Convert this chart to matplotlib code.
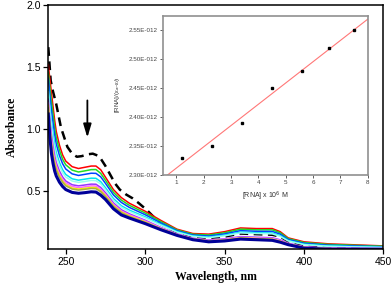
import numpy as np
import matplotlib
matplotlib.use("Agg")
import matplotlib.pyplot as plt
from matplotlib.ticker import FuncFormatter

# wavelength grid (nm) shared by the titration spectra
wl = [239, 240, 241, 242, 243, 244, 246, 248, 250, 254, 258, 262, 266, 269, 272, 275,
      280, 285, 290, 300, 310, 320, 330, 340, 350, 360, 370, 380, 385, 390, 400, 415, 450]

red = [1.52, 1.40, 1.29, 1.18, 1.07, 0.98, 0.87, 0.79, 0.74, 0.695, 0.68, 0.69, 0.70, 0.70, 0.67, 0.61,
       0.51, 0.445, 0.40, 0.335, 0.26, 0.19, 0.155, 0.15, 0.17, 0.20, 0.195, 0.195, 0.17, 0.12, 0.088, 0.072, 0.055]
green = [1.46, 1.33, 1.22, 1.12, 1.01, 0.93, 0.83, 0.755, 0.71, 0.667, 0.652, 0.661, 0.671, 0.672, 0.641, 0.585,
         0.488, 0.425, 0.383, 0.321, 0.25, 0.184, 0.149, 0.143, 0.161, 0.19, 0.185, 0.185, 0.161, 0.114, 0.082, 0.067, 0.052]
blue = [1.41, 1.27, 1.15, 1.05, 0.955, 0.88, 0.786, 0.719, 0.676, 0.637, 0.624, 0.633, 0.642, 0.641, 0.613, 0.56,
        0.467, 0.406, 0.366, 0.307, 0.24, 0.178, 0.143, 0.135, 0.152, 0.178, 0.173, 0.172, 0.15, 0.107, 0.076, 0.061, 0.048]
cyan = [1.33, 1.18, 1.06, 0.964, 0.877, 0.811, 0.729, 0.67, 0.632, 0.597, 0.586, 0.594, 0.602, 0.601, 0.574, 0.525,
        0.437, 0.379, 0.344, 0.29, 0.229, 0.171, 0.136, 0.126, 0.142, 0.166, 0.161, 0.159, 0.138, 0.099, 0.069, 0.055, 0.044]
lcyan = [1.30, 1.14, 1.02, 0.922, 0.84, 0.778, 0.702, 0.647, 0.611, 0.579, 0.568, 0.575, 0.584, 0.582, 0.555, 0.509,
         0.423, 0.367, 0.333, 0.281, 0.222, 0.166, 0.132, 0.122, 0.136, 0.16, 0.155, 0.152, 0.132, 0.095, 0.065, 0.052, 0.042]
purple = [1.24, 1.07, 0.947, 0.858, 0.783, 0.728, 0.66, 0.612, 0.579, 0.549, 0.54, 0.547, 0.554, 0.553, 0.527, 0.484,
          0.402, 0.347, 0.314, 0.262, 0.203, 0.152, 0.117, 0.102, 0.112, 0.13, 0.125, 0.121, 0.104, 0.077, 0.048, 0.038, 0.035]
magenta = [1.21, 1.04, 0.913, 0.826, 0.754, 0.703, 0.639, 0.594, 0.563, 0.535, 0.526, 0.532, 0.54, 0.538, 0.512, 0.471,
           0.391, 0.337, 0.306, 0.256, 0.199, 0.149, 0.114, 0.099, 0.108, 0.125, 0.12, 0.116, 0.099, 0.074, 0.046, 0.035, 0.032]
yellow = [1.19, 1.01, 0.883, 0.798, 0.73, 0.681, 0.621, 0.578, 0.549, 0.522, 0.514, 0.52, 0.527, 0.526, 0.50, 0.461,
          0.381, 0.329, 0.298, 0.249, 0.194, 0.146, 0.111, 0.095, 0.103, 0.12, 0.115, 0.11, 0.094, 0.071, 0.043, 0.033, 0.03]
olive = [1.17, 0.991, 0.864, 0.78, 0.713, 0.667, 0.609, 0.568, 0.54, 0.514, 0.506, 0.512, 0.519, 0.517, 0.492, 0.453,
         0.375, 0.323, 0.292, 0.244, 0.191, 0.144, 0.108, 0.092, 0.10, 0.116, 0.111, 0.106, 0.09, 0.069, 0.04, 0.031, 0.029]
navy = [1.12, 0.93, 0.80, 0.72, 0.66, 0.62, 0.57, 0.535, 0.51, 0.487, 0.48, 0.485, 0.492, 0.49, 0.465, 0.43,
        0.355, 0.305, 0.28, 0.235, 0.185, 0.14, 0.105, 0.088, 0.095, 0.11, 0.105, 0.10, 0.085, 0.065, 0.037, 0.028, 0.027]

# free compound (dashed)
wl_free = [239, 240.5, 242, 244, 247, 251, 254, 257, 260, 264, 267, 270, 272, 275, 278, 281, 284, 288,
           292, 296, 301, 310, 320, 330, 340, 350, 360, 370, 380, 385, 390, 395, 400, 410, 430, 450]
free = [1.66, 1.39, 1.30, 1.20, 1.01, 0.855, 0.80, 0.775, 0.78, 0.795, 0.80, 0.785, 0.76, 0.70, 0.63, 0.56, 0.51, 0.47,
        0.44, 0.40, 0.345, 0.23, 0.165, 0.13, 0.12, 0.13, 0.155, 0.15, 0.145, 0.13, 0.092, 0.072, 0.054, 0.042, 0.036, 0.033]

spectra = [red, green, blue, cyan, lcyan, purple, magenta, yellow, olive, navy]
colors = ['#ff0000', '#22dd22', '#0044ff', '#00e5ee', '#99ffee', '#9933ff', '#ff66ff', '#eeee00', '#aaaa44', '#000099']

y_ticks = [0.5, 1.0, 1.5, 2.0]
y_ticklabels = ['0.5', '1.0', '1.5', '2.0']

# inset: binding plot
rna = [1.2, 2.3, 3.4, 4.5, 5.6, 6.6, 7.5]
ratio = [2.329e-12, 2.350e-12, 2.389e-12, 2.450e-12, 2.479e-12, 2.520e-12, 2.550e-12]

plt.rcParams['font.family'] = ['Liberation Sans', 'DejaVu Sans']
serif = 'Liberation Serif'

fig = plt.figure(figsize=(3.92, 2.89), dpi=100)
ax = fig.add_axes([0.1232, 0.1384, 0.855, 0.844])

ax.plot(wl_free, free, color='k', lw=1.8, dashes=(3.5, 2.2), zorder=1)
for y, c in zip(spectra, colors):
    ax.plot(wl, y, color=c, lw=2.2 if c == '#000099' else 1.1, zorder=2)

ax.annotate('', xy=(263.6, 0.93), xytext=(263.6, 1.23),
            arrowprops=dict(arrowstyle='-|>,head_length=1.0,head_width=0.3', color='k', lw=1.3,
                            mutation_scale=8, shrinkA=0, shrinkB=0))

ax.set_xlim(239, 450)
ax.set_ylim(0.03, 2.0)
ax.set_xticks([250, 300, 350, 400, 450])
ax.set_yticks(y_ticks)
ax.set_yticklabels(y_ticklabels)
ax.tick_params(direction='out', length=3.5, width=0.9, labelsize=7.5, pad=2, labelcolor='k')
for s in ax.spines.values():
    s.set_linewidth(1.1)
ax.set_xlabel('Wavelength, nm', family=serif, weight='bold', fontsize=8.5, labelpad=3)
ax.set_ylabel('Absorbance', family=serif, weight='bold', fontsize=8.5, labelpad=6)

ins = fig.add_axes([0.415, 0.3955, 0.523, 0.550])
k, b = np.polyfit(rna, ratio, 1)
xf = np.array([0.5, 8.0])
ins.plot(xf, k * xf + b, color='#ff7777', lw=0.8)
ins.plot(rna, ratio, 's', color='k', ms=2.0)
ins.set_xlim(0.5, 8)
ins.set_ylim(2.30e-12, 2.575e-12)
ins.set_xticks(range(1, 9))
ins.set_yticks([2.30e-12, 2.35e-12, 2.40e-12, 2.45e-12, 2.50e-12, 2.55e-12])
ins.yaxis.set_major_formatter(FuncFormatter(lambda v, p: f"{v * 1e12:.2f}E-012"))
ins.tick_params(direction='out', length=2, width=0.6, labelsize=4.5, pad=1.5, colors='#444444')
for s in ins.spines.values():
    s.set_color('#909090')
    s.set_linewidth(1.2)
ins.set_xlabel('[RNA] x 10$^6$ M', fontsize=5, color='#333333', labelpad=4)
ins.set_ylabel('[RNA]/(ε$_a$-ε$_f$)', fontsize=4.5, color='#333333', labelpad=5)

fig.savefig('out.png', dpi=100)
